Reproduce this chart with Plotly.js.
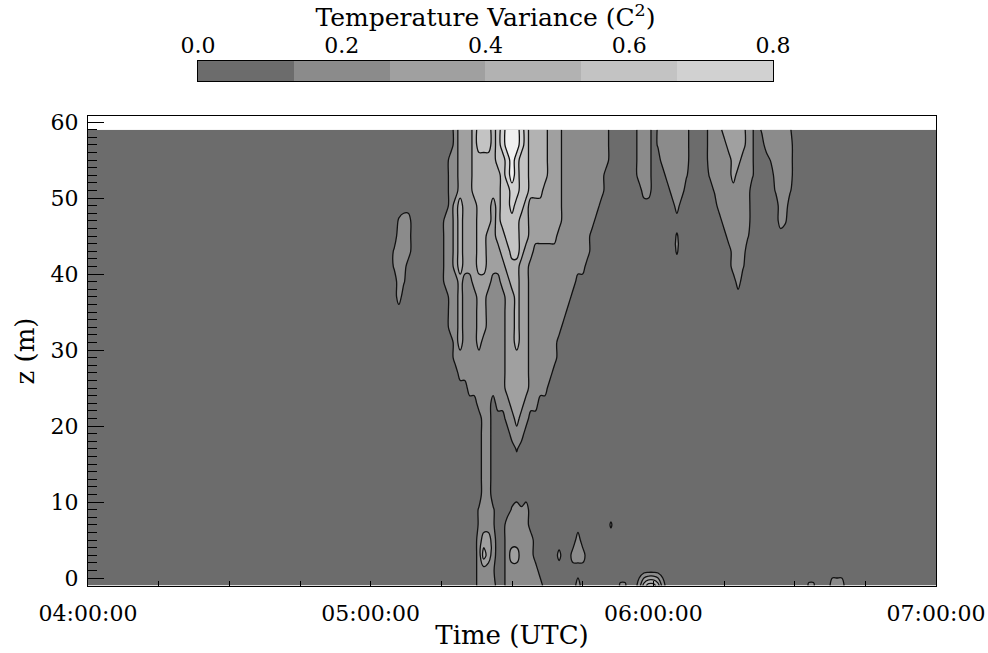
<!DOCTYPE html>
<html><head><meta charset="utf-8">
<script src="https://cdn.plot.ly/plotly-3.0.1.min.js"></script>
<style>html,body{margin:0;padding:0;background:#fff;} #chart{width:988px;height:653px;}</style>
</head><body><div id="chart"></div>
<script>
// Heights (m) of the grid rows, top to bottom
const heights = [59,57,55,53,51,49,47,45,43,41,39,37,35,33,31,29,27,25,23,21,19,17,15,13,11,9,7,5,3,1,-1];
// Time columns in minutes after 04:00 UTC: coarse background columns plus a 1-minute grid 60..165
const timeLeftBg = [0, 30, 55];
const timeRightBg = [172, 180];
const gridFirstMin = 60, gridLastMin = 165;
// Estimated variance value for each band (band centres, plus two near-threshold values)
const bandValue = {'0':0.0667,'1':0.2,'2':0.3333,'3':0.4667,'4':0.6,'5':0.7333,'6':0.8667,'a':0.15,'b':0.17};
// One string per height row, one character per minute column (60..165), grouped by 10 minutes
const varianceRows = [
"0000000000 0000000012 2234443456 6654333322 2111111111 1000000111 0a11111100 0011122222 1a0a11111a 0000000000 000000",
"0000000000 0000000012 2234443456 6654333322 2111111111 1000000111 0a11111100 0011112222 1a00111111 0000000000 000000",
"0000000000 0000000112 2233333445 6544333322 2111111111 1000000111 0011111100 0011111221 1a000a1111 0000000000 000000",
"0000000000 0000000112 2233333345 6544333322 2111111111 0000000111 0001111a00 00a1111211 1a00001111 0000000000 000000",
"0000000000 0000000112 2233333344 5544333222 2111111111 0000000011 0000111000 000a111111 100000a11a 0000000000 000000",
"0000000000 0000000123 2223332344 5443222222 2111111110 0000000000 0000010000 0000111111 1000000110 0000000000 000000",
"000000a110 0000001123 2223332344 4433222222 2111111100 0000000000 0000000000 0000011111 10000001a0 0000000000 000000",
"0000001110 0000001123 2223322334 4433222222 1111111000 0000000000 00000a0000 0000001111 a000000000 0000000000 000000",
"00000a1110 0000001123 2223322233 4432211111 1111111000 0000000000 00000a0000 0000000111 0000000000 0000000000 000000",
"00000a1100 0000001123 2223322223 3322111111 1111110000 0000000000 0000000000 000000011a 0000000000 0000000000 000000",
"0000001a00 0000001112 1122221122 3322111111 1111000000 0000000000 0000000000 0000000010 0000000000 0000000000 000000",
"0000001000 0000000112 1112211112 2322111111 1110000000 0000000000 0000000000 0000000000 0000000000 0000000000 000000",
"0000000000 0000000112 1112211112 2322111111 1100000000 0000000000 0000000000 0000000000 0000000000 0000000000 000000",
"0000000000 0000000112 1112211112 2322111111 1000000000 0000000000 0000000000 0000000000 0000000000 0000000000 000000",
"0000000000 0000000012 1112111112 2322111111 0000000000 0000000000 0000000000 0000000000 0000000000 0000000000 000000",
"0000000000 0000000011 1111111112 2222111111 0000000000 0000000000 0000000000 0000000000 0000000000 0000000000 000000",
"0000000000 0000000001 1111111112 2222111110 0000000000 0000000000 0000000000 0000000000 0000000000 0000000000 000000",
"0000000000 0000000000 0111111112 2222111100 0000000000 0000000000 0000000000 0000000000 0000000000 0000000000 000000",
"0000000000 0000000000 0001110111 2221110000 0000000000 0000000000 0000000000 0000000000 0000000000 0000000000 000000",
"0000000000 0000000000 0000110001 1211000000 0000000000 0000000000 0000000000 0000000000 0000000000 0000000000 000000",
"0000000000 0000000000 0000110000 1110000000 0000000000 0000000000 0000000000 0000000000 0000000000 0000000000 000000",
"0000000000 0000000000 0000110000 0a00000000 0000000000 0000000000 0000000000 0000000000 0000000000 0000000000 000000",
"0000000000 0000000000 0000110000 0000000000 0000000000 0000000000 0000000000 0000000000 0000000000 0000000000 000000",
"0000000000 0000000000 0000110000 0000000000 0000000000 0000000000 0000000000 0000000000 0000000000 0000000000 000000",
"0000000000 0000000000 0000110000 0000000000 0000000000 0000000000 0000000000 0000000000 0000000000 0000000000 000000",
"0000000000 0000000000 000a11a000 a1a1000000 0000000000 0000000000 0000000000 0000000000 0000000000 0000000000 000000",
"0000000000 0000000000 000a11a001 1111000000 0000000000 0a00000000 0000000000 0000000000 0000000000 0000000000 000000",
"0000000000 0000000000 0001221001 1111100000 0000100000 0000000000 0000000000 0000000000 0000000000 0000000000 000000",
"0000000000 0000000000 0001321001 2211100000 b001110000 0000000000 0000000000 0000000000 0000000000 0000000000 000000",
"0000000000 0000000000 000111a001 1111110000 0000000000 0000000000 0000000000 0000000000 0000000000 0000000000 000000",
"0000000000 0000000000 0001111001 1111111000 0000100000 000aa00134 4310000000 0000000000 0000000000 000aa00011 100000"
];
// Grey levels of the seven filled bands (lowest to highest)
const bandColors = ['#6c6c6c','#8b8b8b','#a0a0a0','#b2b2b2','#c3c3c3','#d1d1d1','#f1f1f1'];
// Colour bar
const cbEdges = [0, 0.1333, 0.2667, 0.4, 0.5333, 0.6667, 0.8];
const cbValues = [0.0667, 0.2, 0.3333, 0.4667, 0.6, 0.7333];
const cbTickVals = [0, 0.2, 0.4, 0.6, 0.8];
const cbTickText = ['0.0', '0.2', '0.4', '0.6', '0.8'];
// Axes
const timeTickVals = [0, 60, 120, 180];
const timeTickText = ['04:00:00', '05:00:00', '06:00:00', '07:00:00'];
const zTickVals = [0, 10, 20, 30, 40, 50, 60];

// ---- build grid ----
const times = timeLeftBg.slice();
for (let m = gridFirstMin; m <= gridLastMin; m++) times.push(m);
timeRightBg.forEach(t => times.push(t));
const nGrid = gridLastMin - gridFirstMin + 1;
const zRows = varianceRows.map(r => {
  const s = r.replace(/ /g, '').padEnd(nGrid, '0');
  const vals = s.split('').map(c => bandValue[c]);
  return timeLeftBg.map(() => bandValue['0']).concat(vals, timeRightBg.map(() => bandValue['0']));
});
const yAsc = heights.slice().reverse();
const zAsc = zRows.slice().reverse();

const ZMAX = 0.9333;
const scale = [];
bandColors.forEach((c, k) => {
  const lo = k === 0 ? 0 : (2 * k - 1) / 12;
  const hi = k === bandColors.length - 1 ? 1 : (2 * k + 1) / 12;
  scale.push([lo, c]); scale.push([hi, c]);
});

const FONT = 'DejaVu Serif';
const contour = {
  type: 'contour', x: times, y: yAsc, z: zAsc,
  zmin: 0, zmax: ZMAX, zauto: false,
  autocontour: false,
  contours: {start: 0.1333, end: 0.8, size: 0.1333, coloring: 'fill', showlines: true},
  line: {color: '#111', width: 1.3, smoothing: 1},
  colorscale: scale, showscale: false, hoverinfo: 'skip',
  xaxis: 'x', yaxis: 'y'
};
const cbar = {
  type: 'heatmap', x: cbEdges, y: [0, 1], z: [cbValues],
  zmin: 0, zmax: ZMAX, colorscale: scale, showscale: false, hoverinfo: 'skip',
  xaxis: 'x2', yaxis: 'y2'
};

const layout = {
  width: 988, height: 653,
  margin: {l: 88, r: 52, t: 40, b: 67},
  paper_bgcolor: '#fff', plot_bgcolor: '#fff',
  font: {family: FONT, color: '#000', size: 22},
  showlegend: false,
  xaxis: {
    domain: [0, 1], range: [0, 180], anchor: 'y',
    tickmode: 'array', tickvals: timeTickVals, ticktext: timeTickText,
    ticks: 'inside', ticklen: 5, tickwidth: 1, tickcolor: '#000',
    minor: {tick0: 0, dtick: 15, ticks: 'inside', ticklen: 5, tickwidth: 1, tickcolor: '#000', showgrid: false},
    showline: true, linecolor: '#000', linewidth: 1, mirror: true,
    showgrid: false, zeroline: false,
    tickfont: {family: FONT, size: 22}, ticklabelstandoff: 8,
    title: {text: 'Time (UTC)', font: {family: FONT, size: 26}, standoff: 0}
  },
  yaxis: {
    domain: [0, 0.8608], range: [-1.05, 60.8], anchor: 'x',
    tickmode: 'array', tickvals: zTickVals,
    ticks: 'inside', ticklen: 16, tickwidth: 1, tickcolor: '#000',
    minor: {tick0: 0, dtick: 1, ticks: 'inside', ticklen: 9, tickwidth: 1, tickcolor: '#000', showgrid: false},
    showline: true, linecolor: '#000', linewidth: 1, mirror: true,
    showgrid: false, zeroline: false,
    tickfont: {family: FONT, size: 22}, ticklabelstandoff: 4,
    title: {text: 'z (m)', font: {family: FONT, size: 26}, standoff: 8}
  },
  xaxis2: {
    domain: [0.1297, 0.8078], range: [0, 0.8], anchor: 'y2', side: 'top',
    tickmode: 'array', tickvals: cbTickVals, ticktext: cbTickText,
    ticks: '', showline: true, linecolor: '#000', linewidth: 1, mirror: true,
    showgrid: false, zeroline: false,
    tickfont: {family: FONT, size: 22}, ticklabelstandoff: -2,
    title: {text: 'Temperature Variance (C<sup>2</sup>)', font: {family: FONT, size: 25}, standoff: 0}
  },
  yaxis2: {
    domain: [0.9249, 0.9615], range: [0, 1], anchor: 'x2',
    showticklabels: false, ticks: '', showline: true, linecolor: '#000', linewidth: 1, mirror: true,
    showgrid: false, zeroline: false
  }
};
Plotly.newPlot('chart', [contour, cbar], layout, {displayModeBar: false, staticPlot: true});
</script>
</body></html>
